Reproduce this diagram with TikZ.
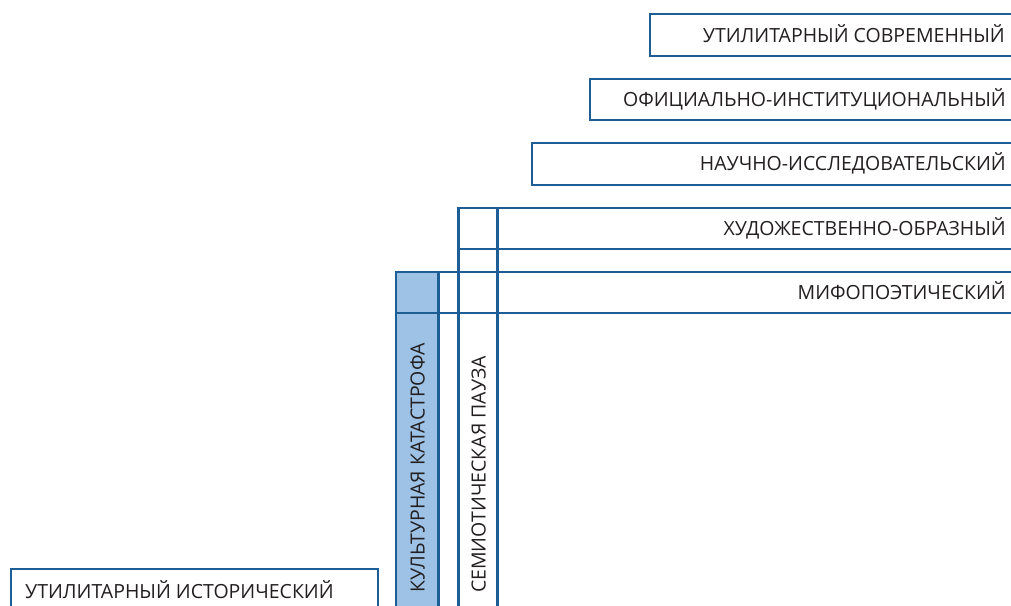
\documentclass[tikz,border=0pt]{standalone}
\usepackage{fontspec}
\setmainfont{Open Sans}
\definecolor{lineblue}{HTML}{1C5E95}
\definecolor{fillblue}{HTML}{9DC2E6}
\definecolor{txt}{HTML}{231F20}
\begin{document}
\begin{tikzpicture}[x=1pt,y=-1pt,
  box/.style={draw=lineblue,line width=2pt,inner sep=0pt,anchor=north west},
  lbl/.style={text=txt,inner sep=0pt,font=\fontsize{19.5}{20}\selectfont},
  rlbl/.style={lbl,anchor=base east},
  vlbl/.style={lbl,anchor=base west,rotate=90}]
\useasboundingbox (0,0) rectangle (1011,605);
\clip (0,0) rectangle (1011,605);
% columns
\node[box,fill=fillblue,minimum width=42pt,minimum height=360pt] (kkcol) at (395,271) {};
\node[box,minimum width=38pt,minimum height=420pt] (spcol) at (458,207) {};
% rows
\node[box,minimum width=400pt,minimum height=42pt] (usovr) at (649,13) {};
\node[box,minimum width=460pt,minimum height=41pt] (ofic) at (589,78) {};
\node[box,minimum width=520pt,minimum height=42pt] (nauch) at (531,142) {};
\node[box,minimum width=590pt,minimum height=41pt] (hud) at (458,207) {};
\node[box,minimum width=650pt,minimum height=41pt] (mif) at (395,271) {};
\node[box,minimum width=367pt,minimum height=60pt] (uist) at (10,568) {};
% redraw column borders over rows
\draw[lineblue,line width=2pt] (kkcol.north east) -- (kkcol.south east);
\draw[lineblue,line width=2pt] (spcol.north west) -- (spcol.south west);
\draw[lineblue,line width=2pt] (spcol.north east) -- (spcol.south east);
% labels
\node[rlbl] (tusovr) at (1005,42) {УТИЛИТАРНЫЙ СОВРЕМЕННЫЙ};
\node[rlbl] (tofic) at (1006,106) {ОФИЦИАЛЬНО-ИНСТИТУЦИОНАЛЬНЫЙ};
\node[rlbl] (tnauch) at (1006,170) {НАУЧНО-ИССЛЕДОВАТЕЛЬСКИЙ};
\node[rlbl] (thud) at (1006,235) {ХУДОЖЕСТВЕННО-ОБРАЗНЫЙ};
\node[rlbl] (tmif) at (1006,299) {МИФОПОЭТИЧЕСКИЙ};
\node[lbl,anchor=base west] (tuist) at (25,598) {УТИЛИТАРНЫЙ ИСТОРИЧЕСКИЙ};
\node[vlbl] (tkk) at (424.5,593) {КУЛЬТУРНАЯ КАТАСТРОФА};
\node[vlbl] (tsp) at (485.5,593) {СЕМИОТИЧЕСКАЯ ПАУЗА};
\end{tikzpicture}
\end{document}
